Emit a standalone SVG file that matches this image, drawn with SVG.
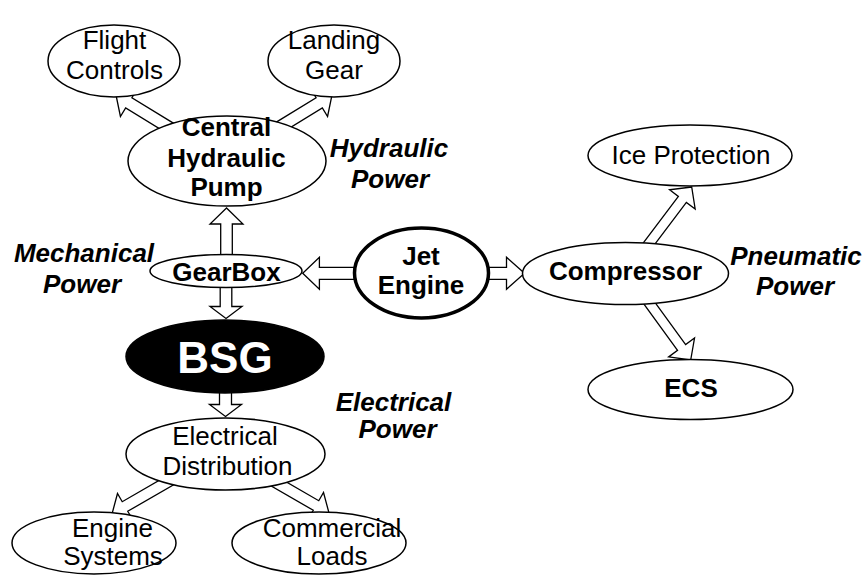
<svg xmlns="http://www.w3.org/2000/svg" width="865" height="576" viewBox="0 0 865 576">
<style>
  .bg { fill: #fff; }
  .n ellipse { fill: #fff; stroke: #000; stroke-width: 1.5; }
  #jet ellipse { stroke-width: 3.5; }
  #bsg ellipse { fill: #000; }
  .arr polygon { fill: #fff; stroke: #000; stroke-width: 1.3; stroke-linejoin: miter; }
  text { font-family: "Liberation Sans", Arial, sans-serif; font-size: 26px; text-anchor: middle; fill: #000; }
  .b { font-weight: bold; }
  .bi { font-weight: bold; font-style: italic; }
  #bsg text { fill: #fff; font-size: 44px; font-weight: bold; }
</style>
<rect class="bg" x="0" y="0" width="865" height="576"/>

<g id="connectors" class="arr">
  <polygon transform="translate(116,95) rotate(211.5)" points="0,0 -15,-16 -15,-6 -75,-6 -75,6 -15,6 -15,16"/>
  <polygon transform="translate(332,95) rotate(-31.5)" points="0,0 -15,-16 -15,-6 -75,-6 -75,6 -15,6 -15,16"/>
  <polygon transform="translate(226.5,208) rotate(-90)" points="0,0 -16,-16.5 -16,-5.8 -57,-5.8 -57,5.8 -16,5.8 -16,16.5"/>
  <polygon transform="translate(226,318.5) rotate(90)" points="0,0 -12,-16 -12,-5.8 -43,-5.8 -43,5.8 -12,5.8 -12,16"/>
  <polygon transform="translate(225.5,416.5) rotate(90)" points="0,0 -12,-16 -12,-6 -46,-6 -46,6 -12,6 -12,16"/>
  <polygon transform="translate(302.7,273.3) rotate(180)" points="0,0 -16.7,-16 -16.7,-6 -77,-6 -77,6 -16.7,6 -16.7,16"/>
  <polygon transform="translate(524.5,273.3)" points="0,0 -18,-16 -18,-6 -65,-6 -65,6 -18,6 -18,16"/>
  <polygon transform="translate(691.7,187) rotate(-53)" points="0,0 -15.5,-16 -15.5,-5 -80,-5 -80,5 -15.5,5 -15.5,16"/>
  <polygon transform="translate(690.7,360) rotate(54)" points="0,0 -15.5,-16 -15.5,-5 -85,-5 -85,5 -15.5,5 -15.5,16"/>
  <polygon transform="translate(112,514) rotate(150)" points="0,0 -15,-15 -15,-5.5 -70,-5.5 -70,5.5 -15,5.5 -15,15"/>
  <polygon transform="translate(329,513) rotate(30)" points="0,0 -15,-15 -15,-5.5 -70,-5.5 -70,5.5 -15,5.5 -15,15"/>
</g>

<g id="flight" class="n">
  <ellipse cx="114" cy="61" rx="66" ry="36"/>
  <text x="114.5" y="48.5">Flight</text>
  <text x="114.5" y="78.5">Controls</text>
</g>
<g id="landing" class="n">
  <ellipse cx="334" cy="61" rx="66" ry="36"/>
  <text x="334" y="48.5">Landing</text>
  <text x="334" y="78.5">Gear</text>
</g>
<g id="pump" class="n">
  <ellipse cx="227" cy="161" rx="99" ry="45"/>
  <text class="b" x="226.5" y="136">Central</text>
  <text class="b" x="226.5" y="166.5">Hydraulic</text>
  <text class="b" x="226.5" y="196">Pump</text>
</g>
<g id="gearbox" class="n">
  <ellipse cx="226" cy="271" rx="76" ry="16.5"/>
  <text class="b" x="226.5" y="281">GearBox</text>
</g>
<g id="bsg" class="n">
  <ellipse cx="225" cy="356.5" rx="99" ry="36.5"/>
  <text x="225" y="373">BSG</text>
</g>
<g id="jet" class="n">
  <ellipse cx="421.5" cy="273" rx="67" ry="45"/>
  <text class="b" x="421" y="265">Jet</text>
  <text class="b" x="421" y="294">Engine</text>
</g>
<g id="compressor" class="n">
  <ellipse cx="625.5" cy="273.5" rx="103" ry="31"/>
  <text class="b" x="625.5" y="280">Compressor</text>
</g>
<g id="ice" class="n">
  <ellipse cx="690" cy="155.5" rx="102" ry="30.5"/>
  <text x="691" y="163.5">Ice Protection</text>
</g>
<g id="ecs" class="n">
  <ellipse cx="690.5" cy="389.5" rx="102.5" ry="30"/>
  <text class="b" x="691" y="397">ECS</text>
</g>
<g id="distribution" class="n">
  <ellipse cx="225.5" cy="454" rx="99.5" ry="36"/>
  <text x="225" y="445">Electrical</text>
  <text x="227.5" y="474.5">Distribution</text>
</g>
<g id="engine-systems" class="n">
  <ellipse cx="94" cy="543" rx="82" ry="31"/>
  <text x="112.5" y="537">Engine</text>
  <text x="113" y="565">Systems</text>
</g>
<g id="commercial" class="n">
  <ellipse cx="319" cy="543" rx="87" ry="31"/>
  <text x="332" y="537">Commercial</text>
  <text x="332" y="565">Loads</text>
</g>

<g id="labels">
  <text class="bi" x="389" y="157">Hydraulic</text>
  <text class="bi" x="390" y="188">Power</text>
  <text class="bi" x="84" y="262">Mechanical</text>
  <text class="bi" x="82" y="293">Power</text>
  <text class="bi" x="796" y="265">Pneumatic</text>
  <text class="bi" x="795" y="295">Power</text>
  <text class="bi" x="393.5" y="410.5">Electrical</text>
  <text class="bi" x="397.5" y="438">Power</text>
</g>
</svg>
